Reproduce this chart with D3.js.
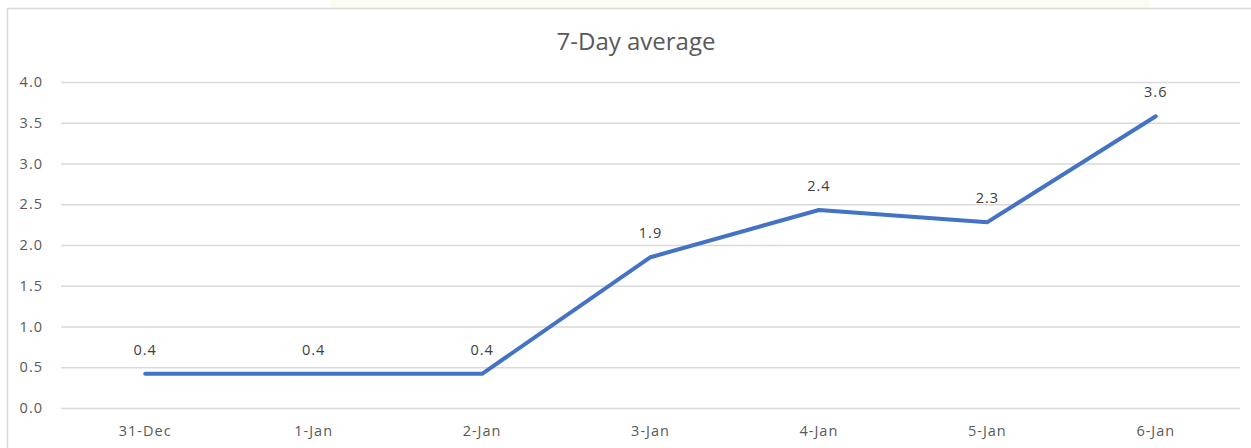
<!DOCTYPE html>
<html><head><meta charset="utf-8">
<script src="https://cdn.jsdelivr.net/npm/d3@7"></script>
<style>body{margin:0;background:#fff;}svg{display:block;}</style>
</head><body>
<script>
const categories = ["31-Dec","1-Jan","2-Jan","3-Jan","4-Jan","5-Jan","6-Jan"];
const values = [0.42,0.42,0.42,1.85,2.43,2.28,3.58];
const yTicks = [0,0.5,1,1.5,2,2.5,3,3.5,4];
const title = "7-Day average";

const W=1251,H=448;
const svg=d3.select("body").append("svg").attr("width",W).attr("height",H);
const font="'Open Sans', sans-serif";
svg.append("rect").attr("x",330).attr("y",0).attr("width",820).attr("height",8).attr("fill","#fdfcf3");
svg.append("rect").attr("x",7.5).attr("y",8.5).attr("width",W).attr("height",H).attr("fill","#fff").attr("stroke","#d9d9d9").attr("stroke-width",1.5);

const x=d3.scaleBand().domain(categories).range([61,1240]);
const y=d3.scaleLinear().domain([0,4]).range([408,82]);

svg.append("text").attr("x",636).attr("y",50).attr("text-anchor","middle").attr("font-family",font).attr("font-size",24).attr("fill","#595959").text(title);

const yAxis=d3.axisLeft(y).tickValues(yTicks).tickFormat(d3.format(".1f")).tickSize(-(1240-61)).tickPadding(18);
const gy=svg.append("g").attr("transform","translate(61,0)").call(yAxis);
gy.select(".domain").remove();
gy.selectAll("line").attr("stroke","#d9d9d9").attr("stroke-width",1.3);
gy.selectAll("text").attr("font-family",font).attr("font-size",14.5).attr("letter-spacing","1px").attr("fill","#595959");

const xAxis=d3.axisBottom(x).tickSize(0).tickPadding(18);
const gx=svg.append("g").attr("transform","translate(0,408)").call(xAxis);
gx.select(".domain").remove();
gx.selectAll("text").attr("font-family",font).attr("font-size",14.5).attr("letter-spacing","1px").attr("fill","#595959");

const line=d3.line().x((d,i)=>x(categories[i])+x.bandwidth()/2).y(d=>y(d));
svg.append("path").datum(values).attr("d",line).attr("fill","none").attr("stroke","#4472C4").attr("stroke-width",4).attr("stroke-linecap","round").attr("stroke-linejoin","round");

svg.selectAll(".lbl").data(values).enter().append("text")
 .attr("x",(d,i)=>x(categories[i])+x.bandwidth()/2)
 .attr("y",d=>y(d)-19)
 .attr("text-anchor","middle").attr("font-family",font).attr("font-size",14.5).attr("letter-spacing","1px").attr("fill","#404040")
 .text(d=>d3.format(".1f")(d));
</script>
</body></html>
